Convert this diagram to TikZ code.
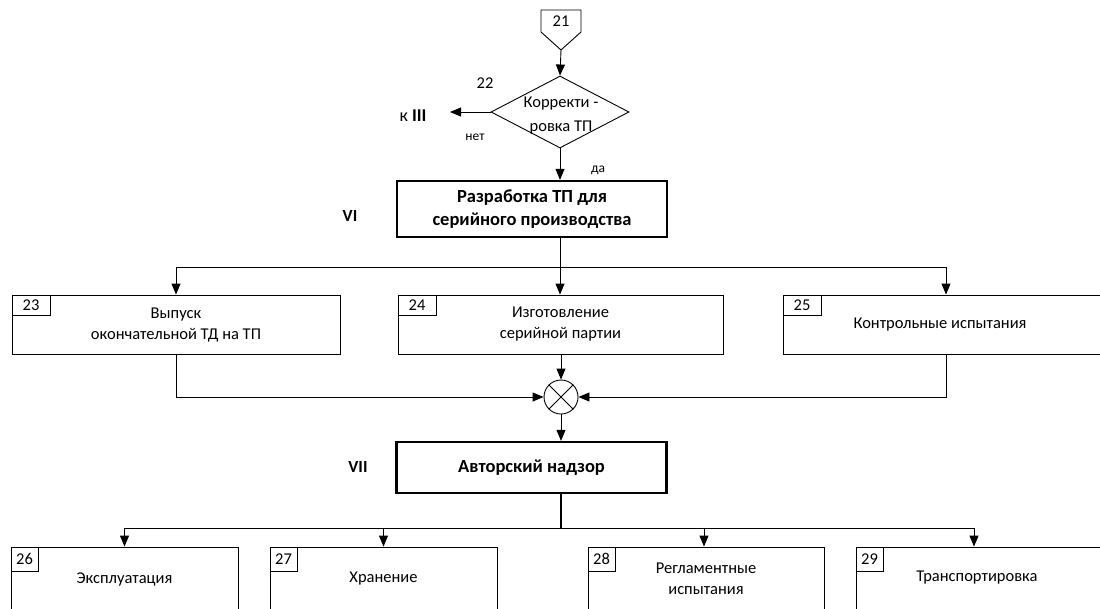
\documentclass[tikz,border=0pt]{standalone}
\usepackage{fontspec}
\setmainfont{Carlito}
\usetikzlibrary{arrows.meta,shapes.geometric}

\begin{document}
\begin{tikzpicture}
  [x=1pt,y=-1pt,line join=miter,
   font=\fontsize{16.5}{21}\selectfont,
   ln/.style={line width=0.9pt},
   arr/.style={ln,-{Triangle[width=9pt,length=11pt]}},
   box/.style={draw,ln,minimum height=59pt,align=center,inner sep=0pt},
   lowbox/.style={draw,ln,minimum height=64pt,align=center,inner sep=0pt},
   mainbox/.style={draw,line width=2.3pt,minimum width=270pt,align=center,
     inner sep=0pt,font=\fontsize{18.5}{23}\selectfont\bfseries},
   tab/.style={draw,ln,anchor=north west,inner sep=0pt,minimum width=38pt,minimum height=20pt},
   lowtab/.style={tab,minimum width=27pt,minimum height=24pt},
   small/.style={font=\fontsize{13.5}{16}\selectfont},
   stage/.style={font=\fontsize{17}{20}\selectfont\bfseries}]
\useasboundingbox (0,0) rectangle (1100,608);

%entry connector and decision
  \node (n21) at (561,21) {21};
  \draw[ln] (541,10) -- (581,10) -- (581,32) -- (561,50) coordinate (n21b) -- (541,32) -- cycle;
  \node[diamond,draw,ln,minimum width=138pt,minimum height=72pt,inner sep=0pt] (d22) at (560,112) {};
  \node[align=center,font=\fontsize{16.5}{24}\selectfont] (t22) at (561,116) {Корректи -\\ровка ТП};
  \node (l22) at (485,83) {22};
  \draw[arr] (n21b) -- (d22.north);
  \coordinate (nout) at (450,112);
  \draw[arr] (d22.west) -- (nout);
  \node[font=\fontsize{18}{20}\selectfont] (k3) at (413,116) {к \textbf{III}};
  \node[small] (no) at (475,137) {нет};
  \node[small] (yes) at (598,170) {да};

%stage VI
  \node[mainbox,minimum height=56pt] (b6) at (532,209) {Разработка ТП для\\серийного производства};
  \node[stage] (s6) at (350,216) {VI};
  \draw[arr] (d22.south) -- (d22.south |- b6.north);

  \node[box,minimum width=328pt] (b23) at (176,324.5) {Выпуск\\окончательной ТД на ТП};
  \node[box,minimum width=325pt] (b24) at (560.5,324.5) {Изготовление\\серийной партии};
  \node[box,minimum width=326pt] (b25) at (946,324.5) {};
  \node (t25) at (940,325) {Контрольные испытания};
  \foreach \n in {23,24,25}
    \node[tab] (tab\n) at (b\n.north west) {\n};

  \draw[ln] (b6.south -| d22) -- ++(0,29) coordinate (split1);
  \draw[arr] (split1) -| (b23.north);
  \draw[arr] (split1) -- (split1 |- b24.north);
  \draw[arr] (split1) -| (b25.north);

%merging
  \node[draw,ln,circle,minimum size=34pt,inner sep=0pt] (sum) at (561,397) {};
  \draw[ln] (sum.north west) -- (sum.south east);
  \draw[ln] (sum.north east) -- (sum.south west);
  \draw[arr] (b23.south) |- (sum.west);
  \draw[arr] (b24.south -| sum) -- (sum.north);
  \draw[arr] (b25.south) |- (sum.east);

%stage VII
  \node[mainbox,minimum height=51pt] (b7) at (531.5,467.5) {Авторский надзор};
  \node[stage] (s7) at (358,467) {VII};
  \draw[arr] (sum.south) -- (sum.south |- b7.north);

  \node[lowbox,minimum width=227pt] (b26) at (124.5,579) {Эксплуатация};
  \node[lowbox,minimum width=227pt] (b27) at (383.5,579) {Хранение};
  \node[lowbox,minimum width=236pt] (b28) at (706,579) {Регламентные\\испытания};
  \node[lowbox,minimum width=270pt] (b29) at (991,579) {};
  \node (t29) at (977,578) {Транспортировка};
  \foreach \n in {26,...,29}
    \node[lowtab] (tab\n) at (b\n.north west) {\n};

  \draw[line width=2pt] (b7.south -| sum) -- ++(0,34) coordinate (split2);
  \draw[arr] (split2) -| (b26.north);
  \draw[arr] (split2) -| (b27.north);
  \draw[arr] (split2) -| ([xshift=-2pt]b28.north);
  \draw[arr] (split2) -| ([xshift=-17pt]b29.north);

\end{tikzpicture}
\end{document}
